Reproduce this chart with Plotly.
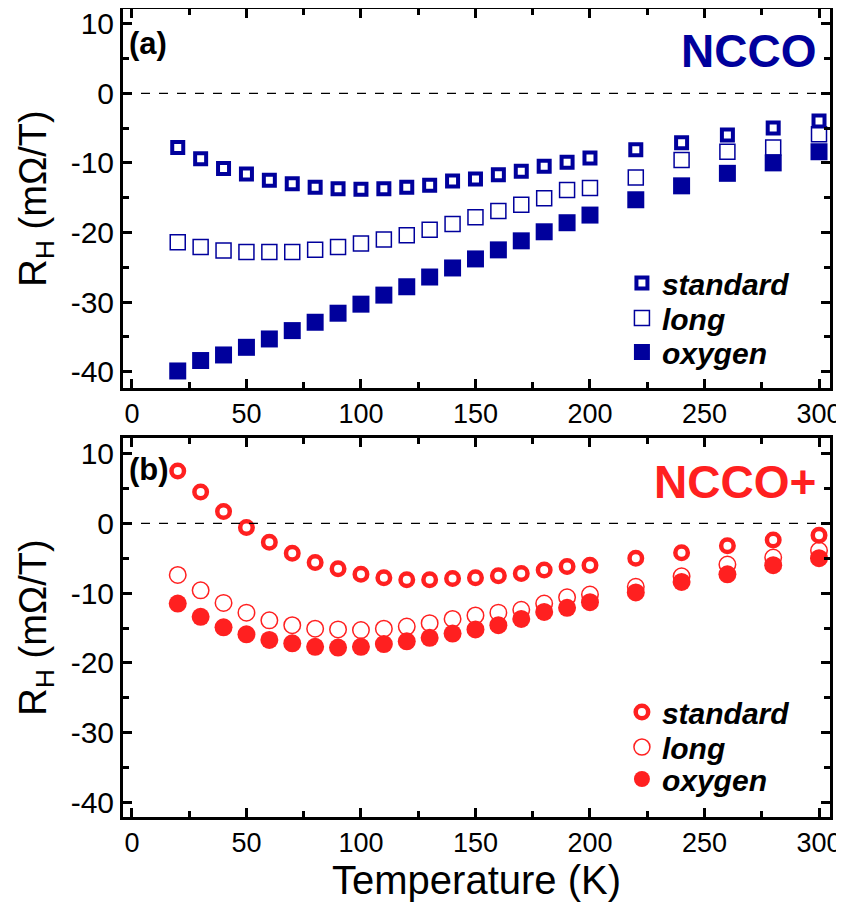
import plotly.graph_objects as go

T = [20, 30, 40, 50, 60, 70, 80, 90, 100, 110, 120, 130, 140, 150, 160, 170, 180, 190, 200, 220, 240, 260, 280, 300]

ncco_standard = [-7.8, -9.4, -10.8, -11.6, -12.5, -13.0, -13.5, -13.7, -13.8, -13.7, -13.5, -13.2, -12.6, -12.3,
                 -11.7, -11.2, -10.5, -9.9, -9.3, -8.1, -7.1, -6.0, -5.0, -4.0]
ncco_long = [-21.4, -22.1, -22.6, -22.8, -22.8, -22.8, -22.5, -22.1, -21.6, -21.0, -20.4, -19.6, -18.8, -17.8,
             -16.9, -16.0, -15.1, -13.9, -13.6, -12.1, -9.6, -8.4, -7.8, -5.9]
ncco_oxygen = [-39.9, -38.4, -37.6, -36.5, -35.3, -34.1, -32.9, -31.6, -30.3, -29.0, -27.8, -26.4, -25.1, -23.8,
               -22.5, -21.2, -19.9, -18.6, -17.5, -15.3, -13.3, -11.5, -10.0, -8.4]

nccop_standard = [7.5, 4.5, 1.7, -0.6, -2.7, -4.3, -5.6, -6.5, -7.3, -7.8, -8.1, -8.1, -7.9, -7.8,
                  -7.5, -7.2, -6.7, -6.2, -6.0, -5.0, -4.2, -3.2, -2.4, -1.7]
nccop_long = [-7.4, -9.6, -11.4, -12.8, -13.9, -14.6, -15.1, -15.2, -15.3, -15.1, -14.8, -14.3, -13.7, -13.2,
              -12.8, -12.4, -11.5, -10.6, -10.2, -9.1, -7.6, -5.9, -4.9, -3.9]
nccop_oxygen = [-11.5, -13.4, -14.9, -15.9, -16.7, -17.2, -17.7, -17.8, -17.7, -17.3, -16.9, -16.4, -15.8, -15.2,
                -14.6, -13.7, -12.7, -12.1, -11.3, -9.9, -8.4, -7.3, -6.0, -5.0]

x_ticks = [0, 50, 100, 150, 200, 250, 300]
x_ticktext = ["0", "50", "100", "150", "200", "250", "300"]
y_ticks = [10, 0, -10, -20, -30, -40]
y_ticktext = ["10", "0", "-10", "-20", "-30", "-40"]
series_names = ["standard", "long", "oxygen"]

BLUE = "#00009C"
RED = "#FF2020"
FONT = "Arial, Liberation Sans, sans-serif"

fig = go.Figure()

# top panel (NCCO), squares
fig.add_trace(go.Scatter(x=T, y=ncco_standard, mode="markers", name=series_names[0],
                         marker=dict(symbol="square-open", size=11, color=BLUE, line=dict(width=4, color=BLUE)),
                         xaxis="x", yaxis="y", legend="legend", showlegend=True))
fig.add_trace(go.Scatter(x=T, y=ncco_long, mode="markers", name=series_names[1],
                         marker=dict(symbol="square-open", size=15, color=BLUE, line=dict(width=1.5, color=BLUE)),
                         xaxis="x", yaxis="y", legend="legend2", showlegend=True))
fig.add_trace(go.Scatter(x=T, y=ncco_oxygen, mode="markers", name=series_names[2],
                         marker=dict(symbol="square", size=17, color=BLUE, line=dict(width=0)),
                         xaxis="x", yaxis="y", legend="legend3", showlegend=True))

# bottom panel (NCCO+), circles
fig.add_trace(go.Scatter(x=T, y=nccop_standard, mode="markers", name=series_names[0],
                         marker=dict(symbol="circle-open", size=12.5, color=RED, line=dict(width=4.5, color=RED)),
                         xaxis="x2", yaxis="y2", legend="legend4", showlegend=True))
fig.add_trace(go.Scatter(x=T, y=nccop_long, mode="markers", name=series_names[1],
                         marker=dict(symbol="circle-open", size=16.5, color=RED, line=dict(width=1.5, color=RED)),
                         xaxis="x2", yaxis="y2", legend="legend5", showlegend=True))
fig.add_trace(go.Scatter(x=T, y=nccop_oxygen, mode="markers", name=series_names[2],
                         marker=dict(symbol="circle", size=18, color=RED, line=dict(width=0)),
                         xaxis="x2", yaxis="y2", legend="legend6", showlegend=True))

xcommon = dict(range=[-3.9, 304.8], tickvals=x_ticks, ticktext=x_ticktext, ticks="inside", ticklen=9, tickwidth=2.5,
               tickcolor="black", showline=True, linewidth=3, linecolor="black", mirror="ticks",
               showgrid=False, zeroline=False, automargin=False, ticklabeloverflow="allow",
               minor=dict(dtick=25, ticks="inside", ticklen=6, tickwidth=2.5, tickcolor="black", showgrid=False),
               tickfont=dict(family=FONT, size=27, color="black"))
ycommon = dict(tickvals=y_ticks, ticktext=y_ticktext, ticks="inside", ticklen=9, tickwidth=2.5,
               tickcolor="black", showline=True, linewidth=3, linecolor="black", mirror="ticks",
               showgrid=False, zeroline=False, automargin=False, ticklabeloverflow="allow",
               minor=dict(dtick=5, ticks="inside", ticklen=6, tickwidth=2.5, tickcolor="black", showgrid=False),
               tickfont=dict(family=FONT, size=30, color="black"),
               title=dict(text="R<sub>H</sub> (mΩ/T)", font=dict(family=FONT, size=38, color="black"), standoff=13))

legend_font = dict(family=FONT, size=30, color="black", weight="bold", style="italic")
legend_x = 0.7057
legend_rows = [0.6609, 0.6176, 0.5755, 0.1300, 0.0866, 0.0470]
legend_layout = {}
for i, ly in enumerate(legend_rows):
    key = "legend" if i == 0 else "legend%d" % (i + 1)
    legend_layout[key] = dict(x=legend_x, y=ly, xref="paper", yref="paper", xanchor="left", yanchor="middle",
                              bgcolor="rgba(0,0,0,0)", borderwidth=0, itemsizing="trace", font=legend_font)

# the page body adds an 8 px offset; size and margins compensate for it
fig.update_layout(
    width=836, height=899,
    showlegend=True,
    margin=dict(l=115, r=14, t=1, b=90, autoexpand=False),
    paper_bgcolor="white", plot_bgcolor="white",
    xaxis=dict(xcommon, domain=[0, 1], anchor="y"),
    yaxis=dict(ycommon, domain=[0.531, 1], range=[-42.34, 12.11], anchor="x"),
    xaxis2=dict(xcommon, domain=[0, 1], anchor="y2",
                title=dict(text="Temperature (K)", font=dict(family=FONT, size=40, color="black"), standoff=2)),
    yaxis2=dict(ycommon, domain=[0, 0.469], range=[-42.08, 12.22], anchor="x2"),
    shapes=[
        dict(type="line", xref="x domain", yref="y", x0=0, x1=1, y0=0, y1=0,
             line=dict(color="black", width=1.2, dash="dash")),
        dict(type="line", xref="x2 domain", yref="y2", x0=0, x1=1, y0=0, y1=0,
             line=dict(color="black", width=1.2, dash="dash")),
    ],
    annotations=[
        dict(text="(a)", xref="x domain", yref="y domain", x=0.006, y=0.91, xanchor="left", yanchor="middle",
             showarrow=False, font=dict(family=FONT, size=31, color="black", weight="bold")),
        dict(text="(b)", xref="x2 domain", yref="y2 domain", x=0.006, y=0.918, xanchor="left", yanchor="middle",
             showarrow=False, font=dict(family=FONT, size=31, color="black", weight="bold")),
        dict(text="NCCO", xref="x domain", yref="y domain", x=0.983, y=0.889, xanchor="right", yanchor="middle",
             showarrow=False, font=dict(family=FONT, size=46, color=BLUE, weight="bold")),
        dict(text="NCCO+", xref="x2 domain", yref="y2 domain", x=0.983, y=0.884, xanchor="right", yanchor="middle",
             showarrow=False, font=dict(family=FONT, size=46, color=RED, weight="bold")),
    ],
    **legend_layout,
)

fig.write_html("out.html")
